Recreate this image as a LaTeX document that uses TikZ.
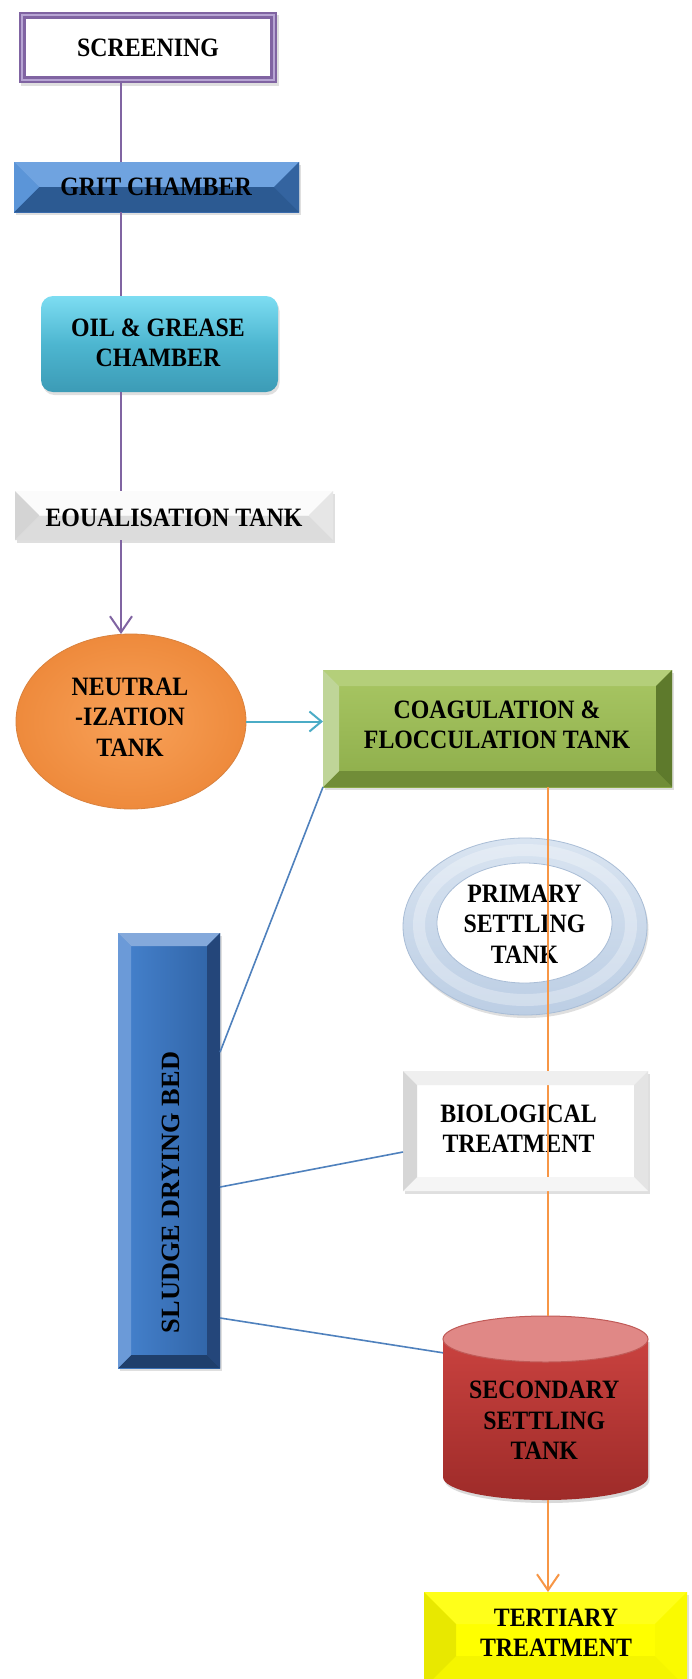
\documentclass[tikz,border=0pt]{standalone}
\usepackage{fontspec}
\newfontfamily\lab[FakeStretch=0.9]{Liberation Serif}
\newfontfamily\labS{Liberation Serif}
\usetikzlibrary{arrows.meta,shadows,calc,shapes.geometric}
\definecolor{purM}{HTML}{8064A2}\definecolor{purL}{HTML}{B7A5D3}
\definecolor{gritIT}{HTML}{4A86CE}\definecolor{gritIB}{HTML}{3A6DB0}
\definecolor{gritT}{HTML}{6FA3E0}\definecolor{gritB}{HTML}{2C5A92}
\definecolor{gritL}{HTML}{5B95D8}\definecolor{gritR}{HTML}{3464A0}
\definecolor{oilT}{HTML}{7DDDF2}\definecolor{oilM}{HTML}{4DB6D0}\definecolor{oilB}{HTML}{3C9BB6}
\definecolor{eqF}{HTML}{F4F4F4}\definecolor{eqT}{HTML}{FBFBFB}\definecolor{eqB}{HTML}{DCDCDC}
\definecolor{eqL}{HTML}{D4D4D4}\definecolor{eqR}{HTML}{E6E6E6}
\definecolor{neuI}{HTML}{F8A158}\definecolor{neuO}{HTML}{EE8A3C}\definecolor{neuE}{HTML}{D9823E}
\definecolor{coIT}{HTML}{A9C764}\definecolor{coIB}{HTML}{8DAD4A}\definecolor{coT}{HTML}{B4CF7A}
\definecolor{coR}{HTML}{5E7A2C}\definecolor{coB}{HTML}{718D38}\definecolor{coL}{HTML}{BFD598}
\definecolor{prT}{HTML}{D9E4F1}\definecolor{prB}{HTML}{BCCEE4}\definecolor{prE}{HTML}{A9BDD6}
\definecolor{bioT}{HTML}{EFEFEF}\definecolor{bioR}{HTML}{E4E4E4}\definecolor{bioB}{HTML}{F5F5F5}\definecolor{bioL}{HTML}{D6D6D6}
\definecolor{slIL}{HTML}{4683CF}\definecolor{slIR}{HTML}{2F62A4}\definecolor{slT}{HTML}{84A9DB}
\definecolor{slR}{HTML}{24467A}\definecolor{slB}{HTML}{1F3F6C}\definecolor{slL}{HTML}{6B9AD8}
\definecolor{secT}{HTML}{C9423F}\definecolor{secB}{HTML}{9E2B29}\definecolor{secTop}{HTML}{E08886}\definecolor{secE}{HTML}{C05A57}
\definecolor{yelF}{HTML}{FFFF00}\definecolor{yelT}{HTML}{FFFF1A}\definecolor{yelR}{HTML}{FAFA00}
\definecolor{yelB}{HTML}{F5F500}\definecolor{yelL}{HTML}{E8E800}
\definecolor{cyanL}{HTML}{4BACC6}\definecolor{oraL}{HTML}{F79646}\definecolor{blL}{HTML}{4F81BD}
% bevel: node, size, top, right, bottom, left
\newcommand\bev[6]{%
 \fill[#3] (#1.north west) -- (#1.north east) -- ([xshift=-#2,yshift=-#2]#1.north east) -- ([xshift=#2,yshift=-#2]#1.north west) -- cycle;
 \fill[#4] (#1.north east) -- (#1.south east) -- ([xshift=-#2,yshift=#2]#1.south east) -- ([xshift=-#2,yshift=-#2]#1.north east) -- cycle;
 \fill[#5] (#1.south east) -- (#1.south west) -- ([xshift=#2,yshift=#2]#1.south west) -- ([xshift=-#2,yshift=#2]#1.south east) -- cycle;
 \fill[#6] (#1.south west) -- (#1.north west) -- ([xshift=#2,yshift=-#2]#1.north west) -- ([xshift=#2,yshift=#2]#1.south west) -- cycle;}
\tikzset{
 boxn/.style={rectangle, inner sep=0pt, outer sep=0pt},
 shd/.style={drop shadow={opacity=0.25, shadow xshift=1.5pt, shadow yshift=-3pt}},
 txt/.style={font=\lab\bfseries\fontsize{26.5}{30.5}\selectfont, align=center, inner sep=0pt, text=black},
 txtS/.style={font=\labS\bfseries\fontsize{26.3}{30}\selectfont, inner sep=0pt, text=black},
 conn/.style={line width=2pt},
 tipA/.style={-{Straight Barb[length=16pt,width=22pt]}},
 tipB/.style={-{Straight Barb[length=12pt,width=20pt]}},
 bl/.style={blL, line width=1.6pt}
}
\begin{document}
\begin{tikzpicture}[x=1pt,y=-1pt]
\clip (0,0) rectangle (691,1679);
\fill[white] (0,0) rectangle (691,1679);
\coordinate (spine) at (121,0);
\coordinate (ox) at (548,0);
% screening
\node[boxn, fill=purM, minimum width=258pt, minimum height=71pt, shd] (scr) at (148,47.5) {};
\fill[white] ([xshift=7pt,yshift=-7pt]scr.north west) rectangle ([xshift=-7pt,yshift=7pt]scr.south east);
\draw[purL, line width=1.5pt] ([xshift=3pt,yshift=-3pt]scr.north west) rectangle ([xshift=-3pt,yshift=3pt]scr.south east);
% grit
\node[boxn, top color=gritIT, bottom color=gritIB, minimum width=285pt, minimum height=50pt, shd] (grit) at (156.5,187) {};
\bev{grit}{25pt}{gritT}{gritR}{gritB}{gritL}
% oil
\node[boxn, rounded corners=12pt, top color=oilT, bottom color=oilB, middle color=oilM, minimum width=237pt, minimum height=96pt, shd] (oil) at (159.5,344) {};
% equalisation
\node[boxn, fill=eqF, minimum width=318pt, minimum height=49pt, shd] (equal) at (174,515.5) {};
\bev{equal}{24pt}{eqT}{eqR}{eqB}{eqL}
% neutralization
\node[ellipse, inner sep=0pt, outer sep=0pt, minimum width=230pt, minimum height=175pt, inner color=neuI, outer color=neuO, draw=neuE, line width=0.8pt] (neut) at (131,721.5) {};
% coagulation
\node[boxn, top color=coIT, bottom color=coIB, minimum width=349pt, minimum height=117pt, shd] (coag) at (497.5,728.5) {};
\bev{coag}{16pt}{coT}{coR}{coB}{coL}
% primary
\node[ellipse, inner sep=0pt, outer sep=0pt, minimum width=244pt, minimum height=177pt, top color=prT, bottom color=prB, draw=prE, line width=0.8pt, shd] (prim) at (525,926.5) {};
\draw[white, opacity=0.3, line width=12pt] (525,925) ellipse[x radius=106, y radius=75];
\filldraw[fill=white, draw=prE, line width=0.8pt] (524.5,923) ellipse[x radius=87.5, y radius=60];
% biological
\node[boxn, fill=white, minimum width=245pt, minimum height=120pt, shd] (bio) at (525.5,1131) {};
% sludge
\node[boxn, left color=slIL, right color=slIR, minimum width=102pt, minimum height=435pt, shd] (sludge) at (169,1150.5) {};
\bev{sludge}{13pt}{slT}{slR}{slB}{slL}
% secondary (cylinder)
\node[boxn, minimum width=205pt, minimum height=184pt] (sec) at (545.5,1408) {};
\fill[black, opacity=0.15] (444.5,1342) -- (444.5,1480) arc[start angle=180, end angle=0, x radius=102.5, y radius=23] -- (649.5,1342) -- cycle;
\shade[top color=secT, bottom color=secB] (443,1339) -- (443,1477) arc[start angle=180, end angle=0, x radius=102.5, y radius=23] -- (648,1339) -- cycle;
\filldraw[fill=secTop, draw=secE, line width=1pt] (545.5,1339) ellipse[x radius=102.5, y radius=23];
% tertiary
\node[boxn, fill=yelF, minimum width=263pt, minimum height=96pt, shd] (tert) at (555.5,1640) {};
\bev{tert}{32pt}{yelT}{yelR}{yelB}{yelL}
% texts
\node[txt] (scrT) at (148,47.7) {SCREENING};
\node[txt] (gritT) at (156,187) {GRIT CHAMBER};
\node[txt] (oilT) at (158,342.8) {OIL \& GREASE\\CHAMBER};
\node[txt] (equalT) at (174,517.8) {EOUALISATION TANK};
\node[txt] (neutT) at (130,717) {NEUTRAL\\-IZATION\\TANK};
\node[txt] (coagT) at (497,725) {COAGULATION \&\\FLOCCULATION TANK};
\node[txt] (primT) at (524.5,924) {PRIMARY\\SETTLING\\TANK};
\node[txt] (bioT) at (518.5,1128.7) {BIOLOGICAL\\TREATMENT};
\node[txt] (secT) at (544.3,1420.3) {SECONDARY\\SETTLING\\TANK};
\node[txt] (tertT) at (556,1632.5) {TERTIARY\\TREATMENT};
\node[txtS, rotate=90] (sludgeT) at (170.8,1192.5) {SLUDGE DRYING BED};
% connectors
\draw[conn, purM] (scr.south -| spine) -- (grit.north -| spine);
\draw[conn, purM] (grit.south -| spine) -- (oil.north -| spine);
\draw[conn, purM] (oil.south -| spine) -- (equal.north -| spine);
\draw[conn, purM, tipA] (equal.south -| spine) -- (neut.north -| spine);
\draw[conn, cyanL, tipB] (neut.east) -- (neut.east -| coag.west);
\draw[conn, oraL] (coag.south -| ox) -- (sec.north -| ox);
\bev{bio}{14pt}{bioT}{bioR}{bioB}{bioL}
\draw[conn, oraL, tipA] (sec.south -| ox) -- (tert.north -| ox);
\draw[bl] ($(sludge.north east)!0.274!(sludge.south east)$) -- (coag.south west);
\draw[bl] ($(sludge.north east)!0.584!(sludge.south east)$) -- ($(bio.north west)!0.675!(bio.south west)$);
\draw[bl] ($(sludge.north east)!0.885!(sludge.south east)$) -- ($(sec.north west)!0.2!(sec.south west)$);
\end{tikzpicture}
\end{document}
